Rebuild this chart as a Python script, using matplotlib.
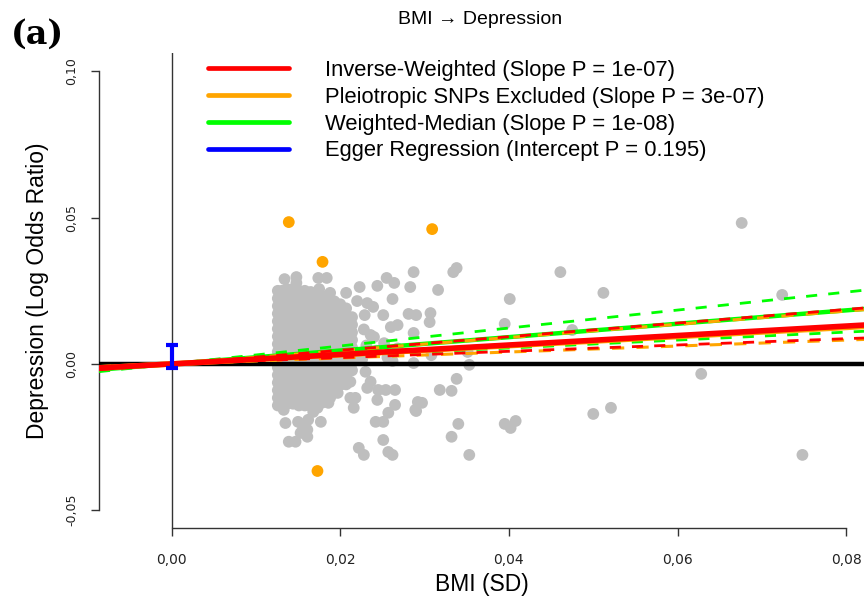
import matplotlib
matplotlib.use("Agg")
import matplotlib.pyplot as plt
from matplotlib.lines import Line2D
import numpy as np

plt.rcParams["font.family"] = ["Liberation Sans", "DejaVu Sans"]

# per-SNP effects on BMI (x) and depression (y)
snp_x = [
    0.0676, 0.0512, 0.0724, 0.0628, 0.0521, 0.0748, 0.0500,
    0.0338, 0.0334, 0.0287, 0.0316, 0.0461, 0.0401, 0.0307, 0.0306, 0.0290,
    0.0395, 0.0475, 0.0283, 0.0287,
    0.0287, 0.0308, 0.0351, 0.0353, 0.0338, 0.0318, 0.0332, 0.0297, 0.0290,
    0.0340, 0.0332, 0.0353, 0.0395, 0.0408, 0.0402,
    0.0134, 0.0148, 0.0148, 0.0174, 0.0184, 0.0175, 0.0188, 0.0207, 0.0223,
    0.0244, 0.0255, 0.0264, 0.0262, 0.0220, 0.0232, 0.0239, 0.0194, 0.0229,
    0.0251, 0.0281, 0.0260, 0.0268, 0.0236,
    0.0135, 0.0135, 0.0133, 0.0135, 0.0139, 0.0147, 0.0153, 0.0161, 0.0156,
    0.0162, 0.0168, 0.0177, 0.0173, 0.0186, 0.0177, 0.0161, 0.0155, 0.0149,
    0.0165, 0.0141, 0.0145, 0.0161, 0.0177, 0.0192, 0.0200, 0.0186, 0.0173,
    0.0208, 0.0212, 0.0212, 0.0218, 0.0216, 0.0230, 0.0236, 0.0232, 0.0245,
    0.0244, 0.0254, 0.0265, 0.0265, 0.0257, 0.0251, 0.0242, 0.0251, 0.0222,
    0.0228, 0.0257, 0.0262, 0.0292, 0.0289, 0.0150, 0.0161, 0.0197, 0.0188,
    0.0240, 0.0243, 0.0252, 0.0256, 0.0268, 0.0262, 0.0228, 0.0231, 0.0226,
]
snp_y = [
    0.0482, 0.0243, 0.0236, -0.0034, -0.0150, -0.0311, -0.0171,
    0.0328, 0.0314, 0.0314, 0.0253, 0.0314, 0.0222, 0.0174, 0.0143, 0.0167,
    0.0137, 0.0116, 0.0263, 0.0106,
    0.0003, 0.0030, 0.0041, -0.0003, -0.0051, -0.0089, -0.0092, -0.0133, -0.0161,
    -0.0205, -0.0249, -0.0311, -0.0205, -0.0195, -0.0219,
    0.0290, 0.0297, 0.0277, 0.0294, 0.0294, 0.0256, 0.0243, 0.0243, 0.0263,
    0.0267, 0.0294, 0.0277, 0.0222, 0.0215, 0.0208, 0.0195, 0.0198, 0.0167,
    0.0167, 0.0171, 0.0126, 0.0133, 0.0099,
    -0.0038, -0.0095, -0.0157, -0.0202, -0.0266, -0.0266, -0.0236, -0.0249, -0.0215,
    -0.0191, -0.0164, -0.0198, -0.0150, -0.0133, -0.0130, -0.0140, -0.0116, -0.0089,
    -0.0106, -0.0072, -0.0048, -0.0044, -0.0044, -0.0044, -0.0072, -0.0079, -0.0079,
    -0.0020, -0.0061, -0.0116, -0.0116, -0.0150, -0.0027, -0.0061, -0.0082, -0.0089,
    -0.0123, -0.0089, -0.0089, -0.0140, -0.0167, -0.0198, -0.0198, -0.0260, -0.0287,
    -0.0311, -0.0301, -0.0311, -0.0130, -0.0157, -0.0198, -0.0225, -0.0099, -0.0116,
    0.0092, 0.0045, 0.0071, 0.0022, 0.0053, 0.0010, 0.0118, 0.0063, 0.0016,
]

# dense core of the SNP cloud, one line per BMI effect
core_x = [
    0.0126, 0.0126, 0.0126, 0.0126, 0.0126, 0.0126, 0.0126, 0.0126,
    0.0131, 0.0131, 0.0131, 0.0131, 0.0131, 0.0131, 0.0131, 0.0131,
    0.0137, 0.0137, 0.0137, 0.0137, 0.0137, 0.0137, 0.0137, 0.0137,
    0.0144, 0.0144, 0.0144, 0.0144, 0.0144, 0.0144, 0.0144, 0.0144,
    0.0151, 0.0151, 0.0151, 0.0151, 0.0151, 0.0151, 0.0151, 0.0151,
    0.0158, 0.0158, 0.0158, 0.0158, 0.0158, 0.0158, 0.0158, 0.0158,
    0.0165, 0.0165, 0.0165, 0.0165, 0.0165, 0.0165, 0.0165, 0.0165,
    0.0172, 0.0172, 0.0172, 0.0172, 0.0172, 0.0172, 0.0172,
    0.0179, 0.0179, 0.0179, 0.0179, 0.0179, 0.0179, 0.0179, 0.0179,
    0.0186, 0.0186, 0.0186, 0.0186, 0.0186, 0.0186,
    0.0193, 0.0193, 0.0193, 0.0193, 0.0193, 0.0193, 0.0193,
    0.0200, 0.0200, 0.0200, 0.0200, 0.0200,
    0.0207, 0.0207, 0.0207, 0.0207, 0.0207, 0.0207,
    0.0214, 0.0214, 0.0214, 0.0214,
]
core_y = [
    0.0250, 0.0198, 0.0146, 0.0094, 0.0042, -0.0012, -0.0064, -0.0116,
    0.0224, 0.0172, 0.0120, 0.0068, 0.0016, -0.0038, -0.0090, -0.0142,
    0.0256, 0.0204, 0.0152, 0.0100, 0.0048, -0.0006, -0.0058, -0.0110,
    0.0230, 0.0178, 0.0126, 0.0074, 0.0022, -0.0032, -0.0084, -0.0136,
    0.0250, 0.0198, 0.0146, 0.0094, 0.0042, -0.0012, -0.0064, -0.0116,
    0.0224, 0.0172, 0.0120, 0.0068, 0.0016, -0.0038, -0.0090, -0.0142,
    0.0246, 0.0194, 0.0142, 0.0090, 0.0038, -0.0016, -0.0068, -0.0120,
    0.0210, 0.0158, 0.0106, 0.0054, 0.0002, -0.0050, -0.0102,
    0.0232, 0.0180, 0.0128, 0.0076, 0.0024, -0.0028, -0.0080, -0.0132,
    0.0196, 0.0144, 0.0092, 0.0040, -0.0012, -0.0064,
    0.0214, 0.0162, 0.0110, 0.0058, 0.0006, -0.0046, -0.0098,
    0.0178, 0.0126, 0.0074, 0.0022, -0.0030,
    0.0190, 0.0138, 0.0086, 0.0034, -0.0018, -0.0070,
    0.0160, 0.0108, 0.0056, 0.0004,
]
fill_x = [
    0.0126, 0.0126, 0.0126, 0.0126, 0.0126, 0.0126, 0.0126, 0.0126,
    0.0131, 0.0131, 0.0131, 0.0131, 0.0131, 0.0131, 0.0131, 0.0131,
    0.0137, 0.0137, 0.0137, 0.0137, 0.0137, 0.0137, 0.0137, 0.0137,
    0.0144, 0.0144, 0.0144, 0.0144, 0.0144, 0.0144, 0.0144, 0.0144,
    0.0151, 0.0151, 0.0151, 0.0151, 0.0151, 0.0151, 0.0151, 0.0151,
    0.0158, 0.0158, 0.0158, 0.0158, 0.0158, 0.0158, 0.0158, 0.0158,
    0.0165, 0.0165, 0.0165, 0.0165, 0.0165, 0.0165, 0.0165,
    0.0172, 0.0172, 0.0172, 0.0172, 0.0172, 0.0172, 0.0172, 0.0172,
    0.0179, 0.0179, 0.0179, 0.0179, 0.0179, 0.0179, 0.0179,
    0.0186, 0.0186, 0.0186, 0.0186, 0.0186, 0.0186, 0.0186,
    0.0193, 0.0193, 0.0193, 0.0193, 0.0193, 0.0193,
    0.0200, 0.0200, 0.0200, 0.0200, 0.0200, 0.0200,
    0.0207, 0.0207, 0.0207, 0.0207, 0.0207,
    0.0214, 0.0214, 0.0214, 0.0214,
]
fill_y = [
    0.0224, 0.0172, 0.0120, 0.0068, 0.0016, -0.0038, -0.0090, -0.0142,
    0.0250, 0.0198, 0.0146, 0.0094, 0.0042, -0.0012, -0.0064, -0.0116,
    0.0230, 0.0178, 0.0126, 0.0074, 0.0022, -0.0032, -0.0084, -0.0136,
    0.0256, 0.0204, 0.0152, 0.0100, 0.0048, -0.0006, -0.0058, -0.0110,
    0.0224, 0.0172, 0.0120, 0.0068, 0.0016, -0.0038, -0.0090, -0.0142,
    0.0250, 0.0198, 0.0146, 0.0094, 0.0042, -0.0012, -0.0064, -0.0116,
    0.0220, 0.0168, 0.0116, 0.0064, 0.0012, -0.0042, -0.0094,
    0.0236, 0.0184, 0.0132, 0.0080, 0.0028, -0.0024, -0.0076, -0.0128,
    0.0206, 0.0154, 0.0102, 0.0050, -0.0002, -0.0054, -0.0106,
    0.0222, 0.0170, 0.0118, 0.0066, 0.0014, -0.0038, -0.0090,
    0.0188, 0.0136, 0.0084, 0.0032, -0.0020, -0.0072,
    0.0204, 0.0152, 0.0100, 0.0048, -0.0004, -0.0056,
    0.0164, 0.0112, 0.0060, 0.0008, -0.0044,
    0.0134, 0.0082, 0.0030, -0.0022,
]

# pleiotropic SNPs (excluded)
pleio_x = [0.0139, 0.0179, 0.0309, 0.0173]
pleio_y = [0.0485, 0.0349, 0.0461, -0.0366]

# slope estimates with lower / upper bounds
ivw = [0.162, 0.108, 0.233]
excl = [0.156, 0.102, 0.226]
wmed = [0.229, 0.136, 0.307]
egger_int = [-0.0015, 0.0065]

legend_labels = [
    "Inverse-Weighted (Slope P = 1e-07)",
    "Pleiotropic SNPs Excluded (Slope P = 3e-07)",
    "Weighted-Median (Slope P = 1e-08)",
    "Egger Regression (Intercept P = 0.195)",
]

fig = plt.figure(figsize=(8.64, 6.02), dpi=100)
ax = fig.add_axes([0.1146, 0.1229, 0.8854, 0.789])
xl = (-0.0086, 0.0821)
ax.set_xlim(xl)
ax.set_ylim(-0.0561, 0.1063)

ax.axvline(0, color="#333333", lw=1.0, zorder=1)
ax.scatter(snp_x + core_x + fill_x, snp_y + core_y + fill_y, s=72,
           color="#bebebe", edgecolors="none", zorder=2)
ax.scatter(pleio_x, pleio_y, s=72, color="#ffa500", edgecolors="none", zorder=2)
ax.axhline(0, color="black", lw=3.2, zorder=3)

xs = np.array(xl)
dash = (4, 4)
ax.plot(xs, wmed[1] * xs, color="#00ff00", lw=2.0, dashes=dash, zorder=4)
ax.plot(xs, wmed[2] * xs, color="#00ff00", lw=2.0, dashes=dash, zorder=4)
ax.plot(xs, wmed[0] * xs, color="#00ff00", lw=3.2, zorder=4)
ax.plot(xs, excl[0] * xs, color="#ffa500", lw=4.0, zorder=5)
ax.plot(xs, excl[1] * xs, color="#ffa500", lw=2.2, dashes=dash, zorder=5)
ax.plot(xs, excl[2] * xs, color="#ffa500", lw=2.2, dashes=dash, zorder=5)
ax.plot(xs, ivw[1] * xs, color="#ff0000", lw=2.0, dashes=dash, zorder=6)
ax.plot(xs, ivw[2] * xs, color="#ff0000", lw=2.0, dashes=dash, zorder=6)
ax.plot(xs, ivw[0] * xs, color="#ff0000", lw=4.0, zorder=6)

# Egger intercept interval at x = 0
mid = np.mean(egger_int)
ax.errorbar([0], [mid], yerr=[[mid - egger_int[0]], [egger_int[1] - mid]],
            fmt="none", ecolor="#0000ff", elinewidth=3, capsize=4.5,
            capthick=3, zorder=7)

for s in ["top", "right"]:
    ax.spines[s].set_visible(False)
ax.spines["left"].set_bounds(-0.05, 0.10)
ax.spines["bottom"].set_bounds(0, 0.08)
for s in ["left", "bottom"]:
    ax.spines[s].set_color("#333333")
    ax.spines[s].set_linewidth(1.0)

narrow = ["Liberation Sans Narrow", "DejaVu Sans"]
xticks = [0.0, 0.02, 0.04, 0.06, 0.08]
yticks = [-0.05, 0.0, 0.05, 0.10]
ax.set_xticks(xticks)
ax.set_xticklabels([f"{t:.2f}".replace(".", ",") for t in xticks],
                   family=narrow, fontsize=10)
ax.set_yticks(yticks)
ax.set_yticklabels([f"{t:.2f}".replace(".", ",") for t in yticks],
                   family=narrow, fontsize=9, rotation=90, va="center")
ax.tick_params(length=6, width=1.0, color="#333333", labelcolor="#222222")
ax.tick_params(axis="x", pad=12)
ax.tick_params(axis="y", pad=9)

ax.set_xlabel("BMI (SD)", fontsize=16.5, labelpad=4)
ax.set_ylabel("Depression (Log Odds Ratio)", fontsize=16.5, labelpad=12)

handles = [Line2D([], [], color=c, lw=3.4, solid_capstyle="round")
           for c in ["#ff0000", "#ffa500", "#00ff00", "#0000ff"]]
ax.legend(handles, legend_labels, loc="upper left", bbox_to_anchor=(0.1425, 0.985),
          frameon=False, fontsize=15.8, handlelength=3.7, handletextpad=1.65,
          labelspacing=0.26, borderpad=0, borderaxespad=0)

fig.text(0.5556, 0.967, "BMI \u2192 Depression", ha="center", va="center", fontsize=14)
fig.text(0.013, 0.943, "(a)", ha="left", va="center", fontsize=24,
         family="DejaVu Serif", weight="bold")

fig.savefig("out.png", dpi=100)
